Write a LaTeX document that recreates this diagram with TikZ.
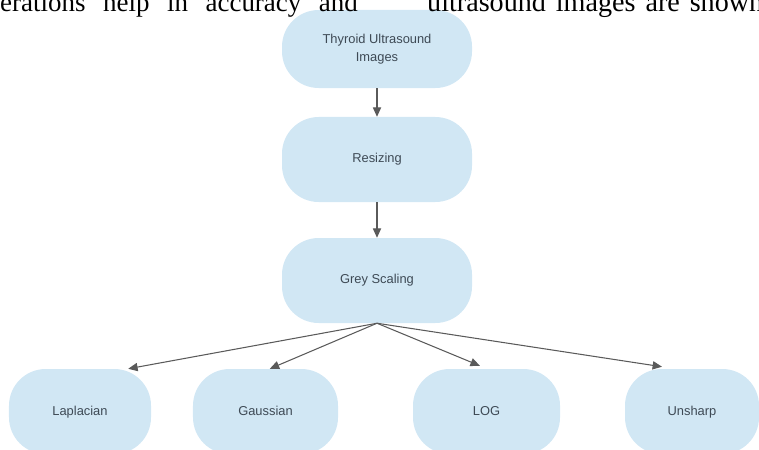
\documentclass[tikz,border=0pt]{standalone}
\usepackage{fontspec}
\setmainfont{Liberation Serif}
\setsansfont{Liberation Sans}
\usetikzlibrary{arrows.meta}
\definecolor{BoxBlue}{HTML}{D1E7F4}
\definecolor{LineDark}{HTML}{5A5A5A}
\definecolor{TextDark}{HTML}{3E4A55}

\tikzset{
  stage/.style={
    rounded corners=1.1cm,
    fill=BoxBlue,
    minimum width=5.7cm,
    minimum height=2.55cm,
    inner sep=0pt,
    align=center,
    text=TextDark,
    font=\sffamily\fontsize{11}{15}\selectfont
  },
  filterbox/.style={stage, minimum width=4.3cm, text height=1.6ex, text depth=0.3ex},
  flow/.style={draw=LineDark, line width=0.9pt, -{Triangle[length=8pt,width=7pt]}},
  pagetext/.style={anchor=base west, inner sep=0pt, font=\fontsize{23}{23}\selectfont}
}

\begin{document}
\begin{tikzpicture}[x=0.03cm, y=-0.03cm]
  \useasboundingbox (0,0) rectangle (759,449);
  \clip (0,0) rectangle (759,449);

  % pipeline
  \node[stage, minimum height=2.34cm] (thyroid) at (377,49) {Thyroid Ultrasound\\Images};
  \node[stage] (resize) at (377,159.5) {Resizing};
  \node[stage] (grey) at (377,280.5) {Grey Scaling};

  % filters
  \node[filterbox, minimum width=4.26cm] (lap) at (80,411.5) {Laplacian};
  \node[filterbox, minimum width=4.35cm] (gau) at (265.5,411.5) {Gaussian};
  \node[filterbox, minimum width=4.41cm] (log) at (486.5,411.5) {LOG};
  \node[filterbox, minimum width=4.02cm] (uns) at (692,411.5) {Unsharp};

  \draw[flow] (thyroid) -- (resize);
  \draw[flow] (resize) -- (grey);
  \draw[flow] (grey.south) -- ([xshift=-0.69cm]lap.north east);
  \draw[flow] (grey.south) -- ([xshift=0.13cm]gau.north);
  \draw[flow] (grey.south) -- ([xshift=-0.2cm, yshift=0.09cm]log.north);
  \draw[flow] (grey.south) -- ([xshift=-0.9cm, yshift=0.06cm]uns.north);

  % page text above the figure
  \node[pagetext] (textleft) at (0,11) {\spaceskip=15pt erations help in accuracy and};
  \node[pagetext, font=\fontsize{24}{24}\selectfont] (textright) at (427,11) {\spaceskip=8.5pt ultrasound images are shown};
\end{tikzpicture}
\end{document}
